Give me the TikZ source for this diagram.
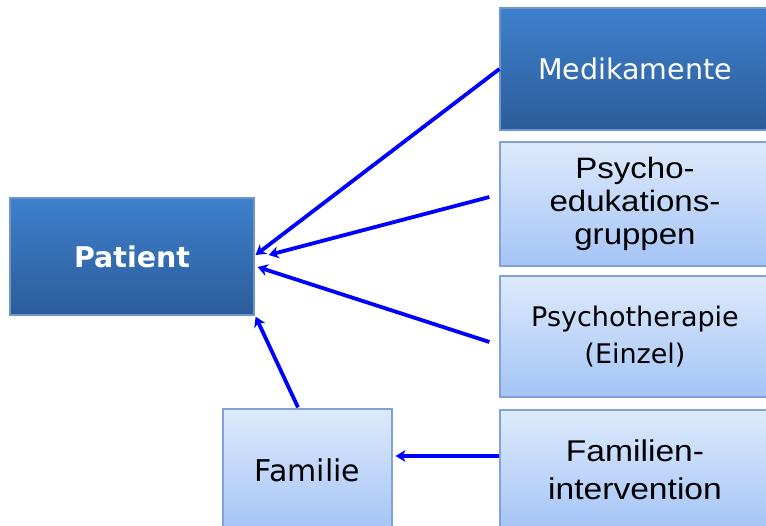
\documentclass[tikz,border=0pt]{standalone}
\usepackage{fontspec}
\setmainfont{DejaVu Sans}
\newfontfamily\arialw[FakeStretch=1.12]{Liberation Sans}
\usetikzlibrary{arrows.meta}
\definecolor{darktop}{RGB}{62,128,204}
\definecolor{darkbot}{RGB}{44,92,154}
\definecolor{lighttop}{RGB}{222,234,252}
\definecolor{lightbot}{RGB}{164,196,246}
\definecolor{lightborder}{RGB}{128,162,212}
\definecolor{darkborder}{RGB}{110,150,205}
\definecolor{arrowblue}{RGB}{0,0,255}
\tikzset{
  darkbox/.style={draw=darkborder, line width=1.2pt, top color=darktop, bottom color=darkbot, text=white, align=center, inner sep=0pt},
  lightbox/.style={draw=lightborder, line width=1.2pt, top color=lighttop, bottom color=lightbot, text=black, align=center, inner sep=0pt},
  conn/.style={draw=arrowblue, line width=3.8pt, -{Stealth[length=10pt,width=12pt]}}
}
\begin{document}
\begin{tikzpicture}[x=1pt,y=-1pt]
\useasboundingbox[fill=white] (0,0) rectangle (766,526);
\node[darkbox, minimum width=244pt, minimum height=117pt, font=\fontsize{28.5}{32}\selectfont\bfseries] (pat) at (132,256.5) {Patient};
\node[darkbox, minimum width=270pt, minimum height=122pt, font=\fontsize{28.5}{32}\selectfont] (med) at (635,69) {Medikamente};
\node[lightbox, minimum width=270pt, minimum height=124pt, font=\arialw\fontsize{29.5}{33}\selectfont] (psy) at (635,204) {Psycho-\\edukations-\\gruppen};
\node[lightbox, minimum width=270pt, minimum height=121pt, font=\fontsize{27}{37}\selectfont] (the) at (635,336.5) {Psychotherapie\\(Einzel)};
\node[lightbox, minimum width=270pt, minimum height=120pt, font=\arialw\fontsize{30}{38}\selectfont] (fint) at (635,470) {Familien-\\intervention};
\node[lightbox, minimum width=169pt, minimum height=122pt, font=\fontsize{30}{33}\selectfont] (fam) at (307.5,470) {Familie};
\draw[conn] (med.west) -- ([shift={(1,-1.5)}]pat.east);
\draw[conn] ([shift={(-10,-7)}]psy.west) -- ([shift={(14,-1.5)}]pat.east);
\draw[conn] ([shift={(-10,5.5)}]the.west) -- ([shift={(3,10.5)}]pat.east);
\draw[conn] ([shift={(-9.5,-1)}]fam.north) -- ([shift={(1,1)}]pat.south east);
\draw[conn] ([shift={(0,-14)}]fint.west) -- ([shift={(3,-14)}]fam.east);
\end{tikzpicture}
\end{document}
